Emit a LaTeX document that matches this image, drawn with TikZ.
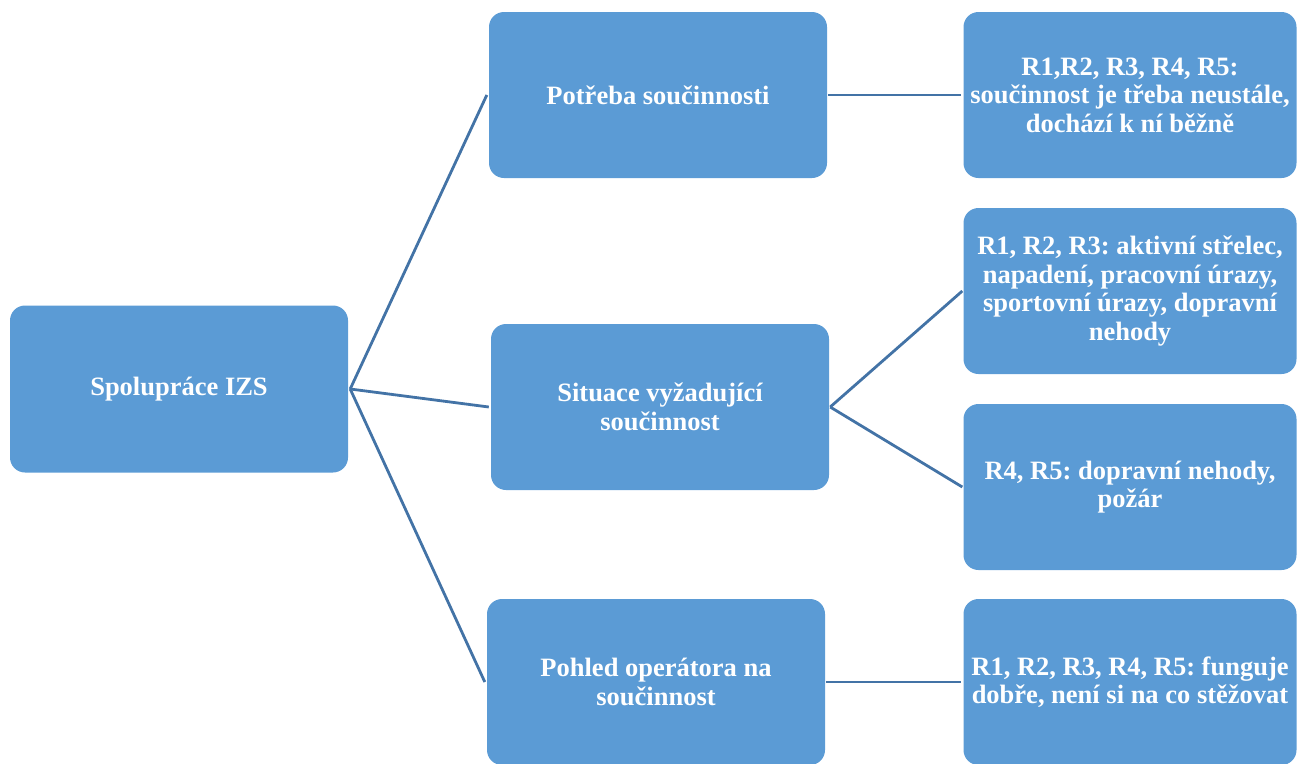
\documentclass[tikz,border=0pt]{standalone}
\usepackage{fontspec}
\setmainfont{Liberation Serif}
\frenchspacing
\definecolor{boxblue}{HTML}{5B9BD5}
\definecolor{linkblue}{HTML}{4373A6}
\begin{document}
\begin{tikzpicture}[x=1pt,y=-1pt,
  card/.style={rectangle, rounded corners=15pt, fill=boxblue, draw=none,
    text=white, align=center, inner sep=0pt,
    font=\fontsize{26.5}{28.5}\selectfont\bfseries},
  link/.style={draw=linkblue, line width=2.8pt}]
\useasboundingbox (0,0) rectangle (1297,763);
% root
\node[card, minimum width=338pt, minimum height=167pt] (root) at (179,389) {Spolupráce IZS};
% middle column
\node[card, minimum width=338pt, minimum height=166pt] (need) at (658,95) {Potřeba součinnosti};
\node[card, minimum width=338pt, minimum height=166pt] (sit) at (660,407) {Situace vyžadující\\součinnost};
\node[card, minimum width=338pt, minimum height=166pt] (view) at (656,682) {Pohled operátora na\\součinnost};
% right column
\node[card, minimum width=333pt, minimum height=166pt] (r1) at (1130,95) {R1,R2, R3, R4, R5:\\součinnost je třeba neustále,\\dochází k ní běžně};
\node[card, minimum width=333pt, minimum height=166pt] (r2) at (1130,291) {R1, R2, R3: aktivní střelec,\\napadení, pracovní úrazy,\\sportovní úrazy, dopravní\\nehody};
\node[card, minimum width=333pt, minimum height=166pt] (r3) at (1130,487) {R4, R5: dopravní nehody,\\požár};
\node[card, minimum width=333pt, minimum height=166pt] (r4) at (1130,682) {R1, R2, R3, R4, R5: funguje\\dobře, není si na co stěžovat};
% connectors
\coordinate (hub) at ([xshift=2pt]root.east);
\draw[link] (hub) -- ([xshift=-2pt]need.west);
\draw[link] (hub) -- ([xshift=-2pt]sit.west);
\draw[link] (hub) -- ([xshift=-2pt]view.west);
\coordinate (sithub) at ([xshift=1pt]sit.east);
\draw[link] ([xshift=1pt]need.east) -- ([xshift=-2pt]r1.west);
\draw[link] (sithub) -- ([xshift=-1pt]r2.west);
\draw[link] (sithub) -- ([xshift=-1pt]r3.west);
\draw[link] ([xshift=1pt]view.east) -- ([xshift=-2pt]r4.west);
\end{tikzpicture}
\end{document}
